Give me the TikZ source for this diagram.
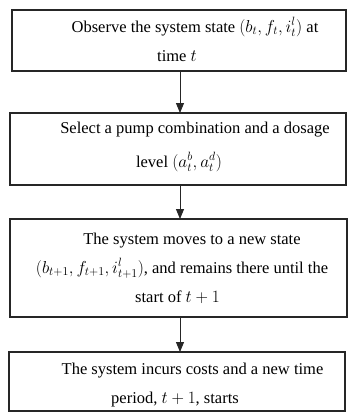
\documentclass[tikz,border=0pt]{standalone}
\usepackage{fontspec}
\setmainfont{Liberation Serif}
\usetikzlibrary{arrows.meta}
\begin{document}
\begin{tikzpicture}[x=1pt,y=-1pt,
  box/.style={draw=black!85,line width=1.2pt,inner sep=0pt,outer sep=0pt,rectangle},
  txt/.style={align=center,inner sep=0pt,anchor=base,font={\fontsize{16.5}{29}\selectfont}},
  flow/.style={draw=black!85,line width=0.9pt,-{Triangle[width=8pt,length=10pt]}}]
\useasboundingbox (0,0) rectangle (348,413);
\node[box,minimum width=334pt,minimum height=61pt] (b1) at (179,40.5) {};
\node[box,minimum width=336pt,minimum height=72pt] (b2) at (178,149) {};
\node[box,minimum width=337pt,minimum height=98pt] (b3) at (178.5,268) {};
\node[box,minimum width=336pt,minimum height=59pt] (b4) at (177,381.5) {};
\node[txt] (t1) at (177,61) {\hspace*{36pt}Observe the system state $(b_t, f_t, i_t^l)$ at\\ time $t$};
\node[txt] (t2) at (179,167) {\hspace*{32pt}Select a pump combination and a dosage\\[5pt] level $(a_t^b, a_t^d)$};
\node[txt] (t3) at (177.5,302) {\hspace*{29pt}The system moves to a new state\\ \hspace*{9pt}$(b_{t+1}, f_{t+1}, i_{t+1}^l)$, and remains there until the\\ start of $t+1$};
\node[txt] (t4) at (175,403) {\hspace*{35pt}The system incurs costs and a new time\\ period, $t+1$, starts};
\draw[flow] (b1.south -| 180,0) -- (b2.north -| 180,0);
\draw[flow] (b2.south -| 180,0) -- (b3.north -| 180,0);
\draw[flow] (b3.south -| 180,0) -- (b4.north -| 180,0);
\end{tikzpicture}
\end{document}
